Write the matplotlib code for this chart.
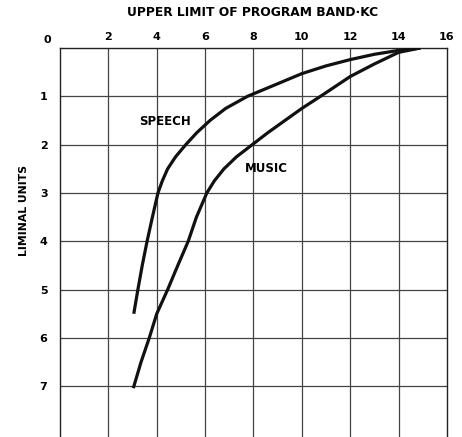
import matplotlib
matplotlib.use("Agg")
import matplotlib.pyplot as plt

# Data
speech_x = [3.05, 3.22, 3.4, 3.6, 3.82, 4.05, 4.23, 4.45, 4.78, 5.2, 5.66, 6.2, 6.85, 7.75, 8.95, 10.0, 11.0, 12.0, 13.0, 14.0, 14.9]
speech_y = [5.5, 5.0, 4.5, 4.0, 3.5, 3.0, 2.75, 2.5, 2.25, 2.0, 1.75, 1.5, 1.25, 1.0, 0.75, 0.53, 0.37, 0.24, 0.13, 0.05, 0.0]
music_x = [3.03, 3.35, 3.69, 4.0, 4.45, 4.87, 5.3, 5.64, 6.07, 6.38, 6.78, 7.3, 7.95, 8.6, 9.3, 10.0, 10.8, 12.0, 13.0, 14.0, 14.9]
music_y = [7.04, 6.5, 6.0, 5.5, 5.0, 4.5, 4.0, 3.5, 3.0, 2.75, 2.5, 2.25, 2.0, 1.75, 1.5, 1.25, 0.99, 0.59, 0.33, 0.09, 0.0]
x_ticks = [2, 4, 6, 8, 10, 12, 14, 16]
y_ticks = [1, 2, 3, 4, 5, 6, 7]

W, H = 462, 437
fig = plt.figure(figsize=(W / 100, H / 100), dpi=100)
ax = fig.add_axes([60 / W, 0, 387 / W, 389 / H])

font = dict(family="DejaVu Sans", weight="bold")

ax.set_xlim(0, 16)
ax.set_ylim(8.05, 0)
ax.xaxis.tick_top()
ax.set_xticks(x_ticks)
ax.set_xticklabels([str(v) for v in x_ticks], fontsize=8, **font)
ax.set_yticks(y_ticks)
ax.set_yticklabels([str(v) for v in y_ticks], fontsize=8, **font)
ax.tick_params(length=0, pad=4)
ax.tick_params(axis="y", pad=9)

for v in x_ticks[:-1]:
    ax.axvline(v, color="#444444", lw=0.9, zorder=1)
for v in y_ticks:
    ax.axhline(v, color="#444444", lw=0.9, zorder=1)

for s in ["left", "right", "top"]:
    ax.spines[s].set_color("#222222")
    ax.spines[s].set_linewidth(1.0)
ax.spines["bottom"].set_visible(False)

ax.plot(speech_x, speech_y, color="#111111", lw=2.3, solid_capstyle="butt",
        solid_joinstyle="round", zorder=3)
ax.plot(music_x, music_y, color="#111111", lw=2.3, solid_capstyle="butt",
        solid_joinstyle="round", zorder=3)

ax.text(4.33, 1.52, "SPEECH", ha="center", va="center", fontsize=8.5, zorder=4, **font)
ax.text(8.55, 2.5, "MUSIC", ha="center", va="center", fontsize=8.5, zorder=4, **font)

fig.text(253 / W, 1 - 13 / H, "UPPER LIMIT OF PROGRAM BAND·KC", ha="center", va="center",
         fontsize=8.8, **font)
fig.text(47 / W, 1 - 40 / H, "0", ha="center", va="center", fontsize=8, **font)
fig.text(24 / W, 1 - 210 / H, "LIMINAL UNITS", ha="center", va="center", rotation=90,
         fontsize=7.8, **font)

fig.savefig("out.png", dpi=100, facecolor="white")
